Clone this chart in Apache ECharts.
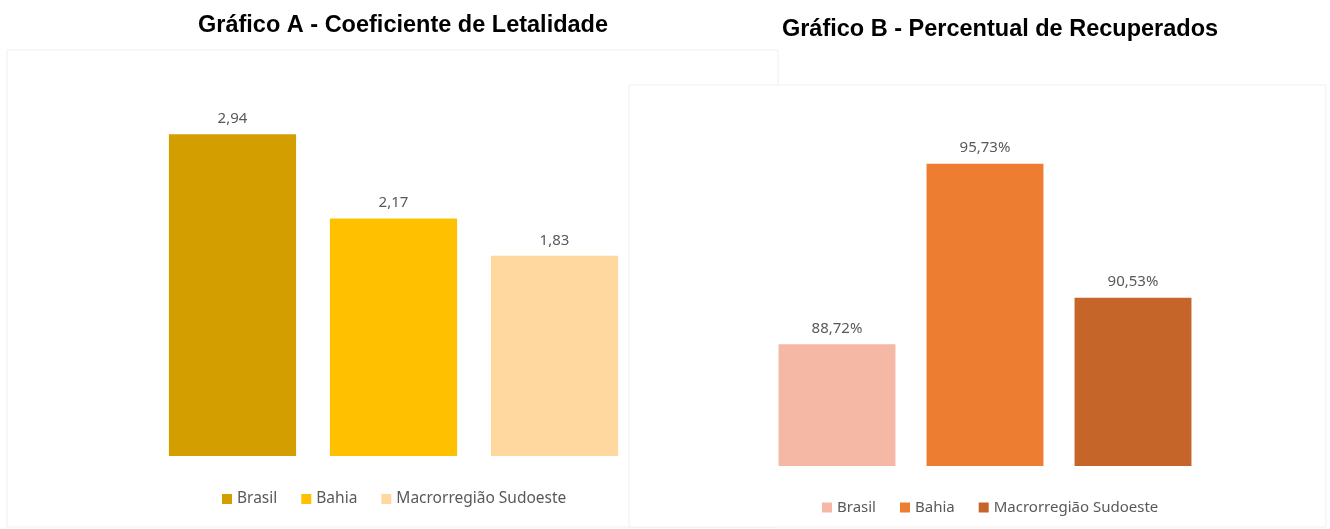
<!DOCTYPE html>
<html lang="pt">
<head>
<meta charset="UTF-8">
<title>Letalidade e Recuperados</title>
<script src="https://cdn.jsdelivr.net/npm/echarts@6/dist/echarts.min.js"></script>
<style>
body{margin:0;padding:0;background:#fff;}
.chart{position:absolute;left:0;top:0;width:1330px;height:529px;}
</style>
</head>
<body>
<div id="chartA" class="chart"></div>
<div id="chartB" class="chart"></div>
<script type="text/javascript">
var categories = ['Brasil', 'Bahia', 'Macrorregião Sudoeste'];
var letalidade = [2.94, 2.17, 1.83];
var recuperados = [88.72, 95.73, 90.53];
var coresA = ['#D39F00', '#FFC000', '#FED89E'];
var coresB = ['#F4B8A4', '#ED7D31', '#C5652A'];

function fmt(v, suffix) {
    return v.toFixed(2).replace('.', ',') + (suffix || '');
}

// one series per category, all overlapping on the same slot
function buildSeries(values, colors, suffix) {
    return categories.map(function (name, i) {
        return {
            name: name,
            type: 'bar',
            barGap: '-100%',
            barCategoryGap: '21%',
            itemStyle: {color: colors[i]},
            label: {
                show: true,
                position: 'top',
                distance: 8,
                color: '#595959',
                fontFamily: 'Noto Sans',
                fontSize: 15,
                formatter: function (p) { return fmt(p.value, suffix); }
            },
            data: values.map(function (v, j) { return j === i ? v : '-'; })
        };
    });
}

function legendOf(left, top, size) {
    return {
        left: left, top: top,
        itemWidth: 10, itemHeight: 10, itemGap: 24,
        icon: 'rect',
        textStyle: {color: '#595959', fontFamily: 'Noto Sans', fontSize: size},
        data: categories
    };
}

var chartA = echarts.init(document.getElementById('chartA'));
chartA.setOption({
    animation: false,
    title: {
        text: 'Gráfico A - Coeficiente de Letalidade',
        left: 398, top: 9,
        textAlign: 'center',
        textStyle: {fontFamily: 'Liberation Sans', fontWeight: 'bold', fontSize: 23.5, color: '#000'}
    },
    graphic: [{
        type: 'rect', z: -10,
        shape: {x: 7, y: 50, width: 771, height: 477},
        style: {fill: '#fff', stroke: '#f0f0f0', lineWidth: 1}
    }],
    legend: legendOf(217, 486, 15.5),
    grid: {left: 152, width: 483, top: 73, bottom: 73},
    xAxis: {type: 'category', data: categories, show: false},
    yAxis: {type: 'value', min: 0, max: 3.5, show: false},
    series: buildSeries(letalidade, coresA, '')
});

var chartB = echarts.init(document.getElementById('chartB'));
chartB.setOption({
    animation: false,
    title: {
        text: 'Gráfico B - Percentual de Recuperados',
        left: 995, top: 13,
        textAlign: 'center',
        textStyle: {fontFamily: 'Liberation Sans', fontWeight: 'bold', fontSize: 23.5, color: '#000'}
    },
    graphic: [{
        type: 'rect', z: -10,
        shape: {x: 629, y: 85, width: 697, height: 442},
        style: {fill: '#fff', stroke: '#f0f0f0', lineWidth: 1}
    }],
    legend: legendOf(817, 495, 15),
    grid: {left: 763, width: 444, top: 131, bottom: 63},
    xAxis: {type: 'category', data: categories, show: false},
    yAxis: {type: 'value', min: 84, max: 97, show: false},
    series: buildSeries(recuperados, coresB, '%')
});
</script>
</body>
</html>
